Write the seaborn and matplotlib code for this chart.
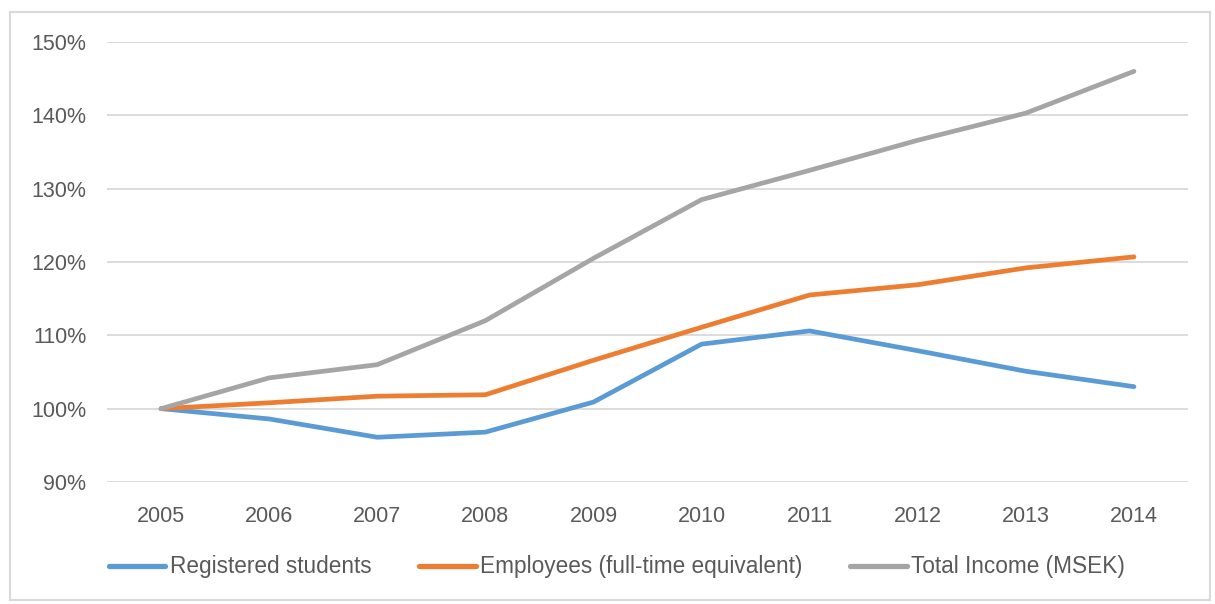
import matplotlib
matplotlib.use("Agg")
import matplotlib.pyplot as plt
import matplotlib.patches as mpatches
import seaborn as sns
import pandas as pd
from matplotlib.ticker import FuncFormatter

years = ["2005", "2006", "2007", "2008", "2009", "2010", "2011", "2012", "2013", "2014"]
registered_students = [100.0, 98.6, 96.1, 96.8, 100.9, 108.8, 110.6, 107.9, 105.1, 103.0]
employees_fte = [100.0, 100.8, 101.7, 101.9, 106.6, 111.1, 115.5, 116.9, 119.2, 120.7]
total_income = [100.0, 104.2, 106.0, 112.0, 120.5, 128.5, 132.5, 136.6, 140.3, 146.0]
series_names = ["Registered students", "Employees (full-time equivalent)", "Total Income (MSEK)"]
colors = ["#5B9BD5", "#ED7D31", "#A5A5A5"]

rows = []
for name, vals in zip(series_names, [registered_students, employees_fte, total_income]):
    for i, (yr, v) in enumerate(zip(years, vals)):
        rows.append({"idx": i, "year": yr, "value": v / 100.0, "series": name})
df = pd.DataFrame(rows)

sns.set_style("white")
plt.rcParams['font.family'] = ['Liberation Sans', 'DejaVu Sans']

fig = plt.figure(figsize=(12.15, 6.04), dpi=100)
ax = fig.add_axes([107/1215, 1 - 482/604, (1188-107)/1215, (482-42)/604])

sns.lineplot(data=df, x="idx", y="value", hue="series", hue_order=series_names,
             palette=colors, linewidth=3.4, ax=ax, legend=False, sort=False)

ax.set_xlim(-0.5, 9.5)
ax.set_ylim(0.9, 1.5)
ax.set_yticks([0.9, 1.0, 1.1, 1.2, 1.3, 1.4, 1.5])
ax.yaxis.set_major_formatter(FuncFormatter(lambda v, p: f"{round(v*100):d}%"))
ax.set_xticks(range(len(years)))
ax.set_xticklabels(years)
ax.grid(axis="y", color="#D9D9D9", linewidth=1.3)
ax.set_axisbelow(True)
for s in ax.spines.values():
    s.set_visible(False)
ax.tick_params(axis="both", length=0, labelsize=15.5, labelcolor="#595959")
ax.tick_params(axis="y", pad=15)
ax.tick_params(axis="x", pad=17)
ax.set_xlabel("")
ax.set_ylabel("")

handles = [plt.Line2D([], [], color=c, linewidth=3.8, solid_capstyle="round") for c in colors]
leg = fig.legend(handles, series_names, loc="center", bbox_to_anchor=(617/1215, 1 - 567/604),
                 ncol=3, frameon=False, fontsize=16.3, handlelength=2.5,
                 handletextpad=0.2, columnspacing=2.1)
for t in leg.get_texts():
    t.set_color("#595959")

border = mpatches.Rectangle((10/1215, 1 - 600/604), (1210-10)/1215, (600-12)/604,
                            transform=fig.transFigure, fill=False,
                            edgecolor="#D9D9D9", linewidth=1.5)
fig.patches.append(border)

fig.savefig("out.png", dpi=100, facecolor="white")
